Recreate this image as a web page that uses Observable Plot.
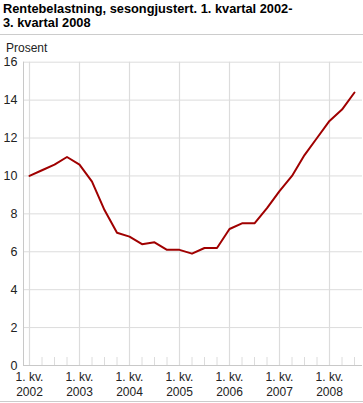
<!DOCTYPE html>
<html>
<head>
<meta charset="utf-8">
<script src="https://cdn.jsdelivr.net/npm/d3@7"></script>
<script src="https://cdn.jsdelivr.net/npm/@observablehq/plot@0.6"></script>
<style>
  html, body { margin: 0; padding: 0; background: #fff; }
  body { width: 363px; height: 403px; position: relative; overflow: hidden; font-family: "Liberation Sans", Arial, sans-serif; }
  #title { position: absolute; left: 3px; top: 2px; font-size: 12.8px; font-weight: bold; line-height: 14px; color: #000; }
  #rule1 { position: absolute; left: 0; top: 34px; width: 363px; height: 1px; background: #ccc; }
  #unit { position: absolute; left: 6px; top: 41px; font-size: 12px; color: #222; }
  #chart { position: absolute; left: 0; top: 36px; }
  #rule2 { position: absolute; left: 0; top: 401px; width: 363px; height: 1px; background: #ccc; }
</style>
</head>
<body>
<div id="title">Rentebelastning, sesongjustert. 1. kvartal 2002-<br>3. kvartal 2008</div>
<div id="rule1"></div>
<div id="unit">Prosent</div>
<div id="chart"></div>
<div id="rule2"></div>
<script>
const periods = [
  "2002K1","2002K2","2002K3","2002K4",
  "2003K1","2003K2","2003K3","2003K4",
  "2004K1","2004K2","2004K3","2004K4",
  "2005K1","2005K2","2005K3","2005K4",
  "2006K1","2006K2","2006K3","2006K4",
  "2007K1","2007K2","2007K3","2007K4",
  "2008K1","2008K2","2008K3"
];
const values = [
  10.0, 10.3, 10.6, 11.0,
  10.6, 9.7, 8.2, 7.0,
  6.8, 6.4, 6.5, 6.1,
  6.1, 5.9, 6.2, 6.2,
  7.2, 7.5, 7.5, 8.3,
  9.2, 10.0, 11.1, 12.0,
  12.9, 13.5, 14.4
];
const yearLabels = ["2002","2003","2004","2005","2006","2007","2008"];
const yTicks = [0, 2, 4, 6, 8, 10, 12, 14, 16];

const data = periods.map((p, i) => ({i, period: p, value: values[i]}));
const yearStarts = yearLabels.map((y, k) => ({i: periods.indexOf(y + "K1"), label: "1. kv.\n" + y}));
const quarterTicks = data.filter(d => !d.period.endsWith("K1"));

const grid = "#dcdcdc";
const plot = Plot.plot({
  width: 363,
  height: 365,
  marginLeft: 23,
  marginRight: 1,
  marginTop: 25.7,
  marginBottom: 36,
  style: {fontFamily: "'Liberation Sans', Arial, sans-serif", fontSize: "12px", color: "#222", background: "transparent"},
  x: {type: "linear", domain: [-0.48, periods.length - 1 + 0.64], axis: null},
  y: {domain: [0, 16], axis: null},
  marks: [
    Plot.ruleY(yTicks, {stroke: grid, strokeWidth: 1}),
    Plot.ruleX(yearStarts, {x: "i", y1: 0, y2: 16, stroke: grid, strokeWidth: 1.2}),
    Plot.ruleX(quarterTicks, {x: "i", y1: 0, y2: 0, insetTop: -8, stroke: grid, strokeWidth: 1}),
    Plot.ruleX([-0.48], {y1: 0, y2: 16, stroke: "#c8c8c8"}),
    Plot.ruleY([0], {stroke: "#c8c8c8"}),
    Plot.axisY({ticks: yTicks, tickSize: 0, tickPadding: 6, fontSize: 12.5, label: null}),
    Plot.text(yearStarts, {x: "i", y: 0, text: "label", lineAnchor: "top", dy: 5, lineHeight: 1.25, fontSize: 12, fill: "#222"}),
    Plot.line(data, {x: "i", y: "value", stroke: "#a00000", strokeWidth: 2})
  ]
});
document.getElementById("chart").appendChild(plot);
</script>
</body>
</html>
